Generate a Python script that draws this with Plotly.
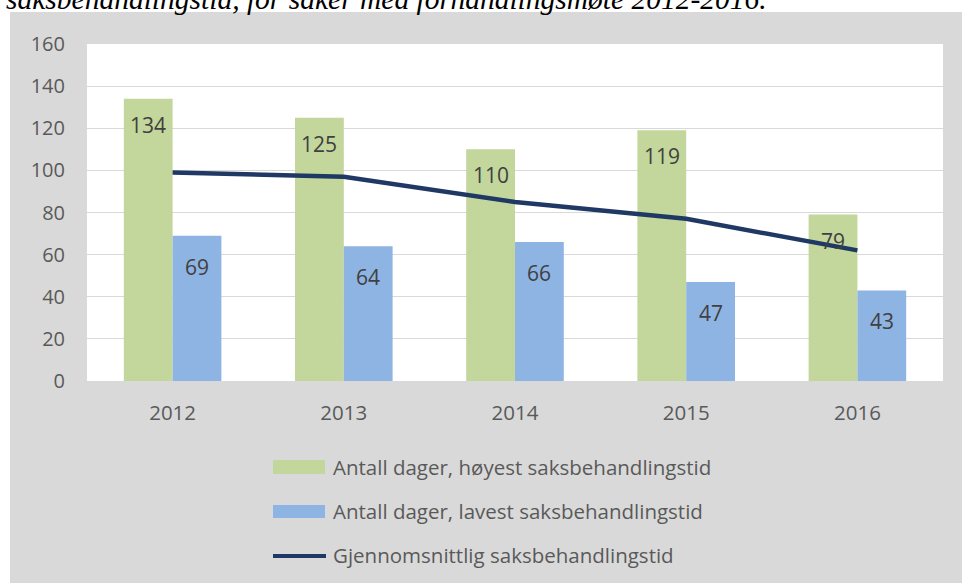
import plotly.graph_objects as go

years = ["2012", "2013", "2014", "2015", "2016"]
hoyest = [134, 125, 110, 119, 79]
lavest = [69, 64, 66, 47, 43]
snitt = [99, 97, 85, 77, 62]

name_hoy = "Antall dager, høyest saksbehandlingstid"
name_lav = "Antall dager, lavest saksbehandlingstid"
name_snitt = "Gjennomsnittlig saksbehandlingstid"
title_text = "saksbehandlingstid, for saker med forhandlingsmøte 2012-2016."

GREEN = "#c3d69b"
BLUE = "#8eb4e3"
NAVY = "#1f3864"
GRAY_BG = "#d9d9d9"
TXT = "#595959"
FONT = "Open Sans"

W, H = 962, 583
L, R, T, B = 87, 19, 44, 202
PW, PH = W - L - R, H - T - B


def px(x):
    return (x - L) / PW


def py(y):
    return (H - B - y) / PH


fig = go.Figure()
fig.add_trace(go.Bar(x=years, y=hoyest, name=name_hoy, marker=dict(color=GREEN, line=dict(width=0))))
fig.add_trace(go.Bar(x=years, y=lavest, name=name_lav, marker=dict(color=BLUE, line=dict(width=0))))
fig.add_trace(go.Scatter(x=years, y=snitt, name=name_snitt, mode="lines",
                         line=dict(color=NAVY, width=4.5)))

annotations = []
for i, v in enumerate(hoyest):
    annotations.append(dict(x=i, y=v, xref="x", yref="y", text=str(v), showarrow=False,
                            xshift=-24.4, yshift=-26, font=dict(family=FONT, size=21, color="#404040")))
for i, v in enumerate(lavest):
    annotations.append(dict(x=i, y=v, xref="x", yref="y", text=str(v), showarrow=False,
                            xshift=24.4, yshift=-31, font=dict(family=FONT, size=21, color="#404040")))

shapes = [
    dict(type="rect", xref="paper", yref="paper", x0=px(10), x1=px(W + 5), y0=py(H + 5), y1=py(12),
         fillcolor=GRAY_BG, line=dict(width=0), layer="below"),
    dict(type="rect", xref="paper", yref="paper", x0=0, x1=1, y0=0, y1=1,
         fillcolor="white", line=dict(width=0), layer="below"),
    dict(type="rect", xref="paper", yref="paper", x0=px(273), x1=px(325), y0=py(474), y1=py(460),
         fillcolor=GREEN, line=dict(width=0)),
    dict(type="rect", xref="paper", yref="paper", x0=px(273), x1=px(325), y0=py(518), y1=py(505),
         fillcolor=BLUE, line=dict(width=0)),
    dict(type="line", xref="paper", yref="paper", x0=px(273), x1=px(326), y0=py(556), y1=py(556),
         line=dict(color=NAVY, width=4)),
]
for name, yc in [(name_hoy, 467), (name_lav, 511), (name_snitt, 555)]:
    annotations.append(dict(x=px(331), y=py(yc), xref="paper", yref="paper", text=name,
                            showarrow=False, xanchor="left", yanchor="middle",
                            font=dict(family=FONT, size=20.5, color=TXT)))

annotations.append(dict(x=px(4), y=py(17), xref="paper", yref="paper", text="<i>" + title_text + "</i>",
                        showarrow=False, xanchor="left", yanchor="bottom",
                        font=dict(family="Liberation Serif", size=29.5, color="black")))

fig.update_layout(
    width=W, height=H,
    margin=dict(l=L, r=R, t=T, b=B, pad=0),
    paper_bgcolor="white",
    plot_bgcolor="white",
    barmode="group",
    bargap=0.43,
    bargroupgap=0,
    showlegend=False,
    shapes=shapes,
    annotations=annotations,
    xaxis=dict(type="category", range=[-0.5, 4.5], showgrid=False, showline=True, linecolor=GRAY_BG,
               linewidth=1, ticks="", ticklabelstandoff=13,
               tickfont=dict(family=FONT, size=20.5, color=TXT)),
    yaxis=dict(range=[0, 160], dtick=20, showgrid=True, gridcolor=GRAY_BG, gridwidth=1,
               zeroline=False, showline=False, ticks="", ticklabelstandoff=21,
               tickfont=dict(family=FONT, size=20, color=TXT)),
)

fig.write_html("out.html")
